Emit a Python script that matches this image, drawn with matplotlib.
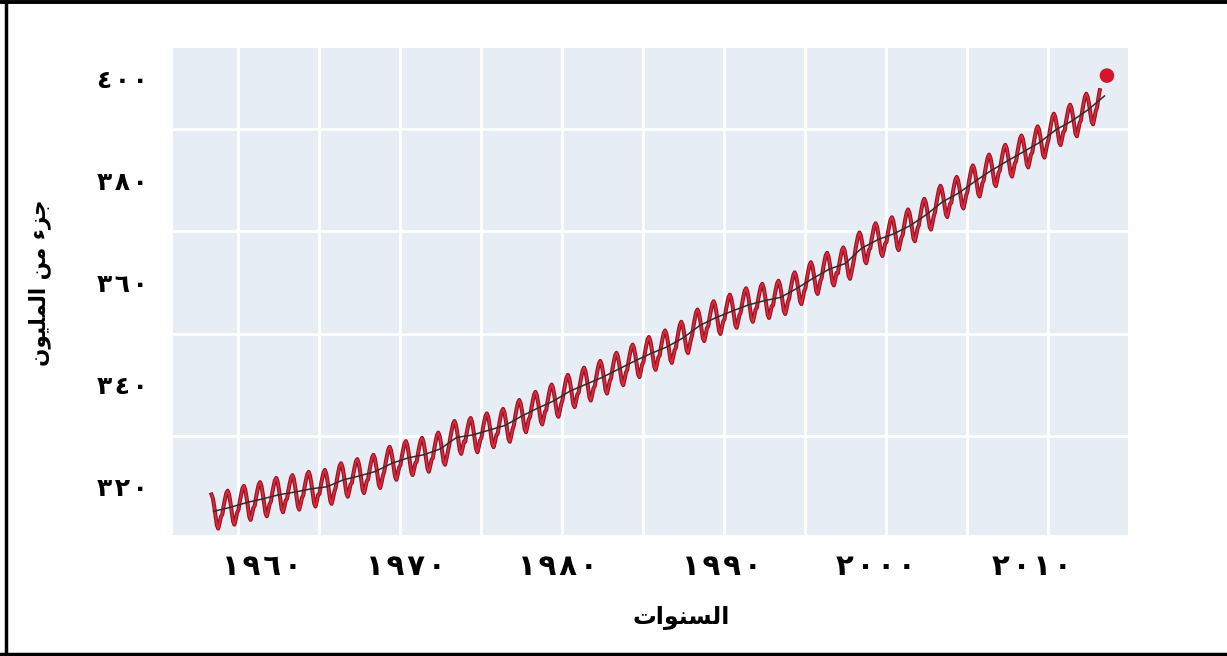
import numpy as np
import matplotlib
matplotlib.use('Agg')
import matplotlib.pyplot as plt
import matplotlib.patheffects as pe
from matplotlib.lines import Line2D
from matplotlib.ticker import MultipleLocator

# Mauna Loa CO2: annual means (ppm) and mean seasonal offset per month (ppm)
years = np.arange(1958, 2014)
annual_ppm = [315.23, 315.98, 316.91, 317.64, 318.45, 318.99, 319.62, 320.04, 321.38, 322.16,
              323.04, 324.62, 325.68, 326.32, 327.45, 329.68, 330.18, 331.11, 332.04, 333.83,
              335.40, 336.84, 338.75, 340.11, 341.45, 343.05, 344.65, 346.12, 347.42, 349.19,
              351.57, 353.12, 354.39, 355.61, 356.45, 357.10, 358.83, 360.82, 362.61, 363.73,
              366.70, 368.38, 369.55, 371.14, 373.28, 375.80, 377.52, 379.80, 381.90, 383.79,
              385.60, 387.43, 389.90, 391.65, 393.85, 396.52]
seasonal_ppm = [-1.0, 0.6, 1.9, 3.0, 3.4, 2.6, 1.0, -1.0, -2.9, -3.6, -2.6, -1.4]
first_month = 4   # series starts May 1958
last_month = 2    # series ends March 2013
peak_year = 2013.65
peak_ppm = 400.5

tick_years = [1960, 1970, 1980, 1990, 2000, 2010]
tick_pos = [1961.5, 1970.4, 1979.75, 1989.9, 1999.4, 2009.0]   # where the labels sit
tick_ppm = [320, 340, 360, 380, 400]

AR_DIGITS = str.maketrans('0123456789', '\u0660\u0661\u0662\u0663\u0664\u0665\u0666\u0667\u0668\u0669')


def ar_num(n, gap='\u200a'):
    return gap.join(str(n).translate(AR_DIGITS))


# shaped Arabic strings (presentation forms, visual order)
x_title = '\uFE95\uFE8D\uFEEE\uFEE8\uFEB4\uFEDF\uFE8D'  # السنوات
y_title = ('\uFEE5\uFEEE\uFEF4\uFEE0\uFEE4\uFEDF\uFE8D' + ' ' +
           '\uFEE6\uFEE3' + ' ' + '\uFE80\uFEB0\uFE9F')   # جزء من المليون

# monthly series = annual mean + seasonal offset + drift inside the year
growth = np.gradient(annual_ppm)
t_month, ppm_month = [], []
for i, yr in enumerate(years):
    for m in range(12):
        if yr == years[0] and m < first_month:
            continue
        if yr == years[-1] and m > last_month:
            continue
        frac = (m + 0.5) / 12
        t_month.append(yr + frac)
        ppm_month.append(annual_ppm[i] + seasonal_ppm[m] + growth[i] * (frac - 0.5))

W, H = 1227, 656
fig = plt.figure(figsize=(W / 100, H / 100), dpi=100)
ax = fig.add_axes([173 / W, 1 - 535 / H, 955 / W, 487 / H])
ax.set_facecolor('#e6edf5')
for s in ax.spines.values():
    s.set_visible(False)

ax.plot(t_month, ppm_month, color='#e3263a', lw=1.3, solid_joinstyle='round',
        path_effects=[pe.Stroke(linewidth=2.9, foreground='#8c1624'), pe.Normal()], zorder=3)
ax.plot(years + 0.5, annual_ppm, color='#2e2e2e', lw=1.1, zorder=4)
ax.scatter([peak_year], [peak_ppm], s=110, color='#d6142b', zorder=5, edgecolors='none')

ax.set_xlim(1956.0, 2014.95)
ax.set_ylim(310.6, 405.9)

ax.xaxis.set_minor_locator(MultipleLocator(5))
ax.yaxis.set_minor_locator(MultipleLocator(10))
ax.grid(which='minor', color='white', lw=2)
ax.set_axisbelow(True)

ax.set_xticks(tick_pos)
ax.set_xticklabels([ar_num(y) for y in tick_years])
ax.set_yticks(tick_ppm)
ax.set_yticklabels([ar_num(v) for v in tick_ppm])
ax.tick_params(which='both', length=0)
ax.tick_params(axis='x', pad=13, labelsize=21)
ax.tick_params(axis='y', pad=18, labelsize=18)
for lab in ax.get_xticklabels() + ax.get_yticklabels():
    lab.set_fontweight('bold')

fig.text(681 / W, 1 - 617 / H, x_title, ha='center', va='center', fontsize=17, fontweight='bold')
fig.text(40 / W, 1 - 283 / H, y_title, ha='center', va='center', rotation=90,
         fontsize=15.5, fontweight='bold')

# black frame (open on the right)
fig.add_artist(Line2D([0, 1], [1 - 1.5 / H, 1 - 1.5 / H], transform=fig.transFigure, color='black', lw=2.8))
fig.add_artist(Line2D([0, 1], [2 / H, 2 / H], transform=fig.transFigure, color='black', lw=2.5))
fig.add_artist(Line2D([5.5 / W, 5.5 / W], [0, 1], transform=fig.transFigure, color='black', lw=2.5))

fig.savefig('out.png', dpi=100)
